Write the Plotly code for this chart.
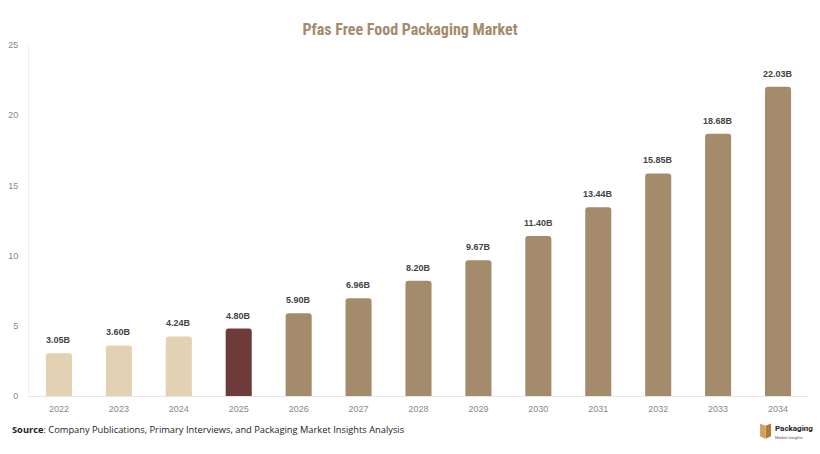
import plotly.graph_objects as go

years = ["2022", "2023", "2024", "2025", "2026", "2027", "2028", "2029", "2030", "2031", "2032", "2033", "2034"]
values = [3.05, 3.60, 4.24, 4.80, 5.90, 6.96, 8.20, 9.67, 11.40, 13.44, 15.85, 18.68, 22.03]
labels = ["3.05B", "3.60B", "4.24B", "4.80B", "5.90B", "6.96B", "8.20B", "9.67B", "11.40B", "13.44B", "15.85B", "18.68B", "22.03B"]
y_ticks = [0, 5, 10, 15, 20, 25]

colors = []
for y in years:
    if int(y) < 2025:
        colors.append("#e2d1b3")
    elif int(y) == 2025:
        colors.append("#6e3a3a")
    else:
        colors.append("#a38b6b")

fig = go.Figure()
fig.add_trace(go.Bar(
    x=years, y=values, marker=dict(color=colors, cornerradius=3, line=dict(width=0)),
    width=0.435, hoverinfo="skip",
))
for i, (v, t) in enumerate(zip(values, labels)):
    fig.add_annotation(x=i, y=v, text=f"<b>{t}</b>", showarrow=False, yanchor="bottom",
                       yshift=6, font=dict(family="Arial, Liberation Sans, sans-serif", size=9, color="#444444"))

fig.update_layout(
    width=820, height=454,
    margin=dict(l=29, r=12, t=45, b=58),
    paper_bgcolor="white", plot_bgcolor="white",
    showlegend=False,
    title=dict(text="<b>Pfas Free Food Packaging Market</b>", x=0.5, xanchor="center", y=0.936, yanchor="middle",
               font=dict(family="Liberation Sans Narrow, Arial Narrow, Roboto Condensed, sans-serif", size=16, color="#a38b6b")),
)
fig.update_xaxes(type="category", range=[-0.5, len(years) - 0.5], showgrid=False, showline=True,
                 linecolor="#e6e6e6", linewidth=1, ticks="", automargin=False, ticklabelstandoff=4,
                 tickfont=dict(family="Arial, Liberation Sans, sans-serif", size=9, color="#888888"))
fig.update_yaxes(range=[0, 25], tickvals=y_ticks, showgrid=False, showline=True, linecolor="#eeeeee",
                 zeroline=False, ticks="", ticklabelstandoff=8, automargin=False,
                 tickfont=dict(family="Arial, Liberation Sans, sans-serif", size=9, color="#888888"))

fig.add_annotation(xref="paper", yref="paper", x=-0.0245, y=-0.07, xanchor="left", yanchor="top", showarrow=False,
                   text="<b>Source</b>: Company Publications, Primary Interviews, and Packaging Market Insights Analysis",
                   font=dict(family="Open Sans, sans-serif", size=9.3, color="#222222"))
# logo approximation
fig.add_shape(type="path", xref="paper", yref="paper",
              path="M 0.9455 -0.085 L 0.9525 -0.078 L 0.9525 -0.115 L 0.9455 -0.122 Z",
              fillcolor="#b07a3a", line=dict(width=0))
fig.add_shape(type="path", xref="paper", yref="paper",
              path="M 0.9385 -0.078 L 0.9455 -0.085 L 0.9455 -0.122 L 0.9385 -0.115 Z",
              fillcolor="#d2a15c", line=dict(width=0))
fig.add_annotation(xref="paper", yref="paper", x=0.955, y=-0.075, xanchor="left", yanchor="top", showarrow=False,
                   text="<b>Packaging</b>", font=dict(family="Roboto, sans-serif", size=8, color="#222222"))
fig.add_annotation(xref="paper", yref="paper", x=0.955, y=-0.105, xanchor="left", yanchor="top", showarrow=False,
                   text="Market Insights", font=dict(family="Roboto, sans-serif", size=4, color="#555555"))

fig.write_html("out.html")
